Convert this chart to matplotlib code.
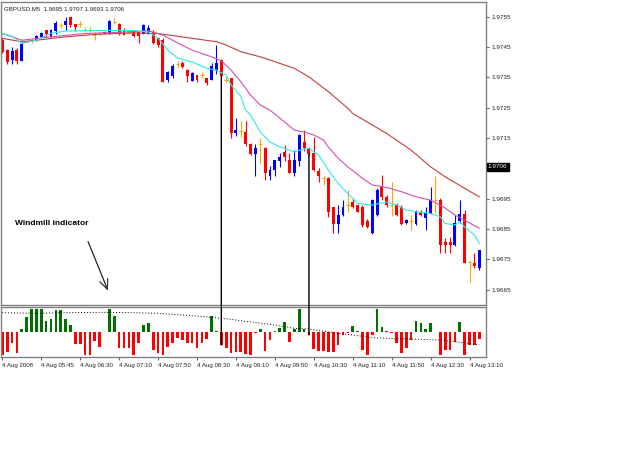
import numpy as np
import matplotlib.pyplot as plt
from matplotlib.patches import ConnectionPatch

# GBPUSD M5 candles (bar 0 = first bar on screen)
opens = [1.97475, 1.97440, 1.97409, 1.97442, 1.97405, 1.97468, 1.97473, 1.97473, 1.97484, 1.97506,
         1.97484, 1.97504, 1.97523, 1.97523, 1.97548, 1.97526, 1.97528, 1.97508, 1.97508, 1.97490,
         1.97495, 1.97500, 1.97495, 1.97533, 1.97526, 1.97508, 1.97499, 1.97506, 1.97500, 1.97495,
         1.97495, 1.97500, 1.97479, 1.97475, 1.97341, 1.97354, 1.97394, 1.97398, 1.97376, 1.97339,
         1.97358, 1.97358, 1.97347, 1.97343, 1.97374, 1.97407, 1.97343, 1.97347, 1.97167, 1.97174,
         1.97169, 1.97129, 1.97097, 1.97130, 1.97116, 1.97024, 1.97046, 1.97075, 1.97103, 1.97077,
         1.97035, 1.97075, 1.97137, 1.97116, 1.97099, 1.97041, 1.97017, 1.97017, 1.96921, 1.96866,
         1.96896, 1.96929, 1.96939, 1.96929, 1.96923, 1.96877, 1.96837, 1.96896, 1.96987, 1.96956,
         1.96929, 1.96929, 1.96923, 1.96868, 1.96877, 1.96866, 1.96907, 1.96885, 1.96901, 1.96945,
         1.96947, 1.96808, 1.96808, 1.96797, 1.96877, 1.96899, 1.96741, 1.96738, 1.96720]
highs = [1.97480, 1.97443, 1.97451, 1.97447, 1.97467, 1.97473, 1.97479, 1.97490, 1.97500, 1.97508,
         1.97509, 1.97537, 1.97530, 1.97548, 1.97550, 1.97528, 1.97537, 1.97517, 1.97515, 1.97500,
         1.97500, 1.97503, 1.97539, 1.97545, 1.97530, 1.97513, 1.97503, 1.97508, 1.97503, 1.97526,
         1.97523, 1.97506, 1.97483, 1.97479, 1.97371, 1.97396, 1.97405, 1.97404, 1.97377, 1.97368,
         1.97359, 1.97369, 1.97348, 1.97397, 1.97457, 1.97410, 1.97352, 1.97348, 1.97215, 1.97207,
         1.97207, 1.97133, 1.97129, 1.97149, 1.97120, 1.97058, 1.97077, 1.97099, 1.97127, 1.97099,
         1.97110, 1.97162, 1.97178, 1.97121, 1.97154, 1.97050, 1.97024, 1.97021, 1.96923, 1.96929,
         1.96947, 1.96980, 1.96951, 1.96932, 1.96929, 1.96882, 1.96948, 1.96985, 1.97028, 1.96962,
         1.97006, 1.96935, 1.96929, 1.96882, 1.96896, 1.96912, 1.96912, 1.96923, 1.96987, 1.97024,
         1.96952, 1.96819, 1.96824, 1.96896, 1.96945, 1.96912, 1.96749, 1.96769, 1.96780]
lows = [1.97430, 1.97394, 1.97396, 1.97396, 1.97404, 1.97463, 1.97464, 1.97471, 1.97483, 1.97482,
        1.97483, 1.97495, 1.97512, 1.97508, 1.97517, 1.97504, 1.97517, 1.97500, 1.97500, 1.97475,
        1.97490, 1.97493, 1.97493, 1.97526, 1.97490, 1.97489, 1.97493, 1.97484, 1.97464, 1.97493,
        1.97493, 1.97462, 1.97451, 1.97335, 1.97336, 1.97347, 1.97380, 1.97380, 1.97336, 1.97338,
        1.97336, 1.97347, 1.97325, 1.97341, 1.97363, 1.97351, 1.97336, 1.97150, 1.97156, 1.97154,
        1.97124, 1.97094, 1.97024, 1.97066, 1.97013, 1.97011, 1.97024, 1.97055, 1.97075, 1.97033,
        1.97024, 1.97057, 1.97108, 1.97090, 1.97042, 1.97006, 1.96995, 1.96888, 1.96835, 1.96835,
        1.96892, 1.96907, 1.96919, 1.96906, 1.96857, 1.96853, 1.96833, 1.96892, 1.96945, 1.96922,
        1.96892, 1.96892, 1.96863, 1.96866, 1.96848, 1.96863, 1.96892, 1.96846, 1.96899, 1.96901,
        1.96770, 1.96769, 1.96769, 1.96793, 1.96868, 1.96737, 1.96675, 1.96720, 1.96714]
closes = [1.97435, 1.97401, 1.97437, 1.97405, 1.97462, 1.97468, 1.97473, 1.97486, 1.97497, 1.97493,
          1.97506, 1.97530, 1.97523, 1.97537, 1.97523, 1.97515, 1.97528, 1.97508, 1.97508, 1.97490,
          1.97495, 1.97495, 1.97537, 1.97533, 1.97495, 1.97491, 1.97499, 1.97486, 1.97486, 1.97523,
          1.97512, 1.97464, 1.97457, 1.97336, 1.97369, 1.97387, 1.97394, 1.97385, 1.97354, 1.97365,
          1.97341, 1.97358, 1.97332, 1.97387, 1.97398, 1.97354, 1.97343, 1.97167, 1.97178, 1.97174,
          1.97129, 1.97097, 1.97116, 1.97130, 1.97035, 1.97046, 1.97076, 1.97088, 1.97087, 1.97035,
          1.97077, 1.97160, 1.97116, 1.97097, 1.97044, 1.97024, 1.97017, 1.96907, 1.96866, 1.96896,
          1.96921, 1.96929, 1.96923, 1.96907, 1.96863, 1.96857, 1.96945, 1.96980, 1.96956, 1.96929,
          1.96929, 1.96896, 1.96866, 1.96879, 1.96877, 1.96907, 1.96896, 1.96903, 1.96945, 1.96945,
          1.96797, 1.96797, 1.96797, 1.96868, 1.96899, 1.96738, 1.96741, 1.96727, 1.96780]

# moving averages (bar index, price) read at points along each line
ma_fast_x = [0, 2, 4, 7, 10, 13, 20, 27, 30, 32, 34, 36, 39, 42, 44, 46, 47, 49, 50, 51, 53, 55, 57,
             60, 61, 63, 65, 67, 69, 71, 73, 76, 79, 81, 83, 85, 88, 90, 91, 93, 94, 95, 97, 98]
ma_fast_y = [1.97495, 1.97486, 1.97463, 1.97473, 1.97496, 1.97503, 1.97505, 1.97505, 1.97500, 1.97480,
             1.97440, 1.97414, 1.97401, 1.97380, 1.97374, 1.97358, 1.97325, 1.97288, 1.97242, 1.97226,
             1.97170, 1.97137, 1.97121, 1.97104, 1.97110, 1.97116, 1.97094, 1.97044, 1.97000, 1.96967,
             1.96934, 1.96929, 1.96939, 1.96929, 1.96912, 1.96907, 1.96901, 1.96890, 1.96868, 1.96863,
             1.96874, 1.96857, 1.96830, 1.96802]
ma_mid_x = [0, 4, 10, 17, 24, 30, 33, 36, 39, 43, 45, 47, 49, 51, 53, 55, 58, 60, 62, 64, 66, 67,
            69, 71, 74, 76, 79, 82, 85, 88, 91, 93, 95, 98]
ma_mid_y = [1.97495, 1.97473, 1.97484, 1.97495, 1.97499, 1.97504, 1.97490, 1.97464, 1.97440, 1.97418,
            1.97405, 1.97374, 1.97336, 1.97292, 1.97259, 1.97242, 1.97203, 1.97176, 1.97170, 1.97160,
            1.97143, 1.97120, 1.97083, 1.97055, 1.97017, 1.96995, 1.96987, 1.96973, 1.96956, 1.96945,
            1.96919, 1.96896, 1.96879, 1.96852]
ma_slow_x = [0, 4, 6, 13, 20, 27, 32, 39, 44, 46, 49, 53, 56, 60, 63, 67, 71, 72, 79, 84, 88, 91, 95, 98]
ma_slow_y = [1.97479, 1.97468, 1.97471, 1.97484, 1.97493, 1.97497, 1.97495, 1.97479, 1.97468, 1.97457,
             1.97435, 1.97418, 1.97402, 1.97380, 1.97352, 1.97303, 1.97248, 1.97231, 1.97165, 1.97110,
             1.97055, 1.97022, 1.96984, 1.96956]

# Windmill indicator histogram and its signal line
windmill = [-6.9, -5.9, -3.4, -6.2, 1.0, 4.6, 6.8, 6.8, 6.8, 3.4,
            3.8, 6.6, 6.6, 3.8, 2.1, -3.6, -3.7, -6.9, -6.9, -2.6,
            -4.4, 0.0, 6.8, 4.8, -4.9, -4.9, -4.9, -6.9, -3.2, 2.0,
            2.6, -5.4, -6.4, -6.9, -4.4, -3.4, -1.9, -2.4, -3.2, -3.2,
            -4.9, -3.2, -2.2, 4.8, 0.3, -3.9, -4.9, -6.2, -5.9, -5.9,
            -6.6, -6.9, -0.4, 0.8, -5.6, -2.5, 0.2, 1.2, 3.0, -2.9,
            1.0, 6.8, 1.0, -0.9, -5.2, -5.6, -5.6, -5.9, -5.9, -3.9,
            -1.0, -0.4, 1.8, 0.2, -5.4, -6.9, -0.9, 6.8, 1.6, 0.3,
            -0.4, -3.4, -6.2, -4.9, -2.4, 3.3, 2.6, 0.8, 2.8, 0.1,
            -6.9, -5.4, -5.4, -2.9, 3.0, -6.9, -3.9, -3.9, -2.2]
signal_x = [0, 7, 13, 20, 27, 32, 37, 43, 47, 49, 56, 60, 63, 67, 72, 76, 81, 90, 97, 98]
signal_y = [5.8, 5.6, 5.8, 5.9, 5.8, 5.6, 5.1, 4.4, 3.8, 3.4, 2.1, 1.1, 0.9, 0.0, -0.9, -1.7, -2.0,
            -2.4, -3.6, -3.9]

price_ticks = [1.9665, 1.9675, 1.9685, 1.9695, 1.9705, 1.9715, 1.9725, 1.9735, 1.9745, 1.9755]
time_ticks = [0, 8, 16, 24, 32, 40, 48, 56, 64, 72, 80, 88, 96]
time_labels = ['4 Aug 2008', '4 Aug 05:45', '4 Aug 06:30', '4 Aug 07:10', '4 Aug 07:50',
               '4 Aug 08:30', '4 Aug 09:10', '4 Aug 09:50', '4 Aug 10:30', '4 Aug 11:10',
               '4 Aug 11:50', '4 Aug 12:30', '4 Aug 13:10']
last_price = 1.9706
signal_bars = [45, 63]  # bars marked with the vertical lines

plt.rcParams['font.family'] = ['Liberation Sans', 'DejaVu Sans']
fig = plt.figure(figsize=(6.25, 4.69), dpi=100)
W, H = 625.0, 469.0
ax1 = fig.add_axes([1 / W, 1 - 305 / H, 485 / W, 303 / H])
ax2 = fig.add_axes([1 / W, 1 - 357 / H, 485 / W, 50 / H])

o = np.array(opens)
h = np.array(highs)
l = np.array(lows)
c = np.array(closes)
x = np.arange(len(o))

up = c > o
down = c < o
doji = c == o

# candles: blue up, red down, orange doji
ax1.vlines(x[up], l[up], h[up], color='#0000ff', lw=0.8)
ax1.vlines(x[down], l[down], h[down], color='#ff0000', lw=0.8)
ax1.vlines(x[doji], l[doji], h[doji], color='#ffa500', lw=0.8)
ax1.bar(x[up], c[up] - o[up], bottom=o[up], width=0.6, color='#0000ff', lw=0)
ax1.bar(x[down], o[down] - c[down], bottom=c[down], width=0.6, color='#ff0000', lw=0)
ax1.hlines(o[doji], x[doji] - 0.35, x[doji] + 0.35, color='#ffa500', lw=0.8)

# moving averages
ax1.plot(ma_slow_x, ma_slow_y, color='#c04040', lw=0.8)
ax1.plot(ma_mid_x, ma_mid_y, color='#d050b0', lw=0.8)
ax1.plot(ma_fast_x, ma_fast_y, color='#30e8e8', lw=0.8)

ax1.set_xlim(-0.27, 99.38)
ax1.set_ylim(1.96599, 1.97599)
ax1.set_xticks([])
ax1.yaxis.tick_right()
ax1.set_yticks(price_ticks)
# the 1.9705 label sits under the last-price box
ax1.set_yticklabels(['' if abs(v - 1.9705) < 1e-6 else '%.4f' % v for v in price_ticks])
ax1.tick_params(axis='y', labelsize=4.6, length=2.5, pad=1.5, color='#606060', labelcolor='#202020')

# current price box
ax1.text(1.004, last_price - 0.00005, '%.4f' % last_price, transform=ax1.get_yaxis_transform(),
         fontsize=4.6, color='white', va='center', ha='left',
         bbox=dict(boxstyle='square,pad=0.2', fc='black', ec='black'))

# header
ax1.text(0.006, 0.978, 'GBPUSD,M5  1.9695 1.9707 1.9693 1.9706', transform=ax1.transAxes,
         fontsize=4.4, va='center', ha='left', color='#202020')

# indicator panel
w = np.array(windmill)
ax2.bar(x[w > 0], w[w > 0], width=0.55, color='#007000', lw=0)
ax2.bar(x[w < 0], w[w < 0], width=0.55, color='#ff0000', lw=0)
ax2.plot(signal_x, signal_y, color='black', lw=0.7, linestyle=(0, (1, 2)))
ax2.set_xlim(-0.27, 99.38)
ax2.set_ylim(-7.5, 7.5)
ax2.set_yticks([])
ax2.set_xticks(time_ticks)
ax2.set_xticklabels(time_labels, ha='left')
ax2.tick_params(axis='x', labelsize=4.4, length=2.5, pad=1.5, color='#606060', labelcolor='#202020')

for ax in (ax1, ax2):
    for s in ax.spines.values():
        s.set_color('#808080')
        s.set_linewidth(1.0)

# vertical lines linking the price bars with the indicator bars
for b in signal_bars:
    con = ConnectionPatch(xyA=(b, closes[b]), coordsA=ax1.transData,
                          xyB=(b, windmill[b]), coordsB=ax2.transData,
                          color='black', lw=1.0)
    fig.add_artist(con)

# annotation
fig.text(15 / W, 1 - 223.5 / H, 'Windmill indicator', fontsize=6, fontweight='bold',
         va='center', ha='left')
fig.add_artist(plt.annotate('', xy=(109 / W, 1 - 293 / H), xytext=(87 / W, 1 - 239 / H),
                            xycoords='figure fraction', textcoords='figure fraction',
                            arrowprops=dict(arrowstyle='->,head_length=0.7,head_width=0.3',
                                            color='#303030', lw=0.7)))

plt.savefig('out.png', dpi=100)
